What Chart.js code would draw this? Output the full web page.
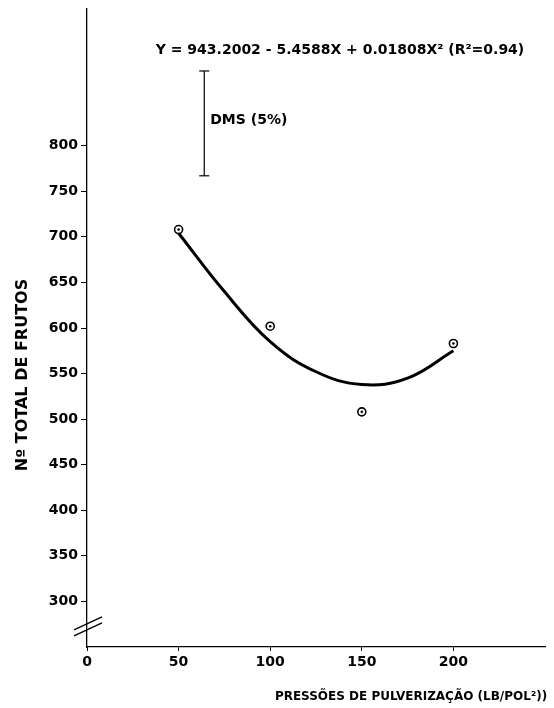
<!DOCTYPE html>
<html>
<head>
<meta charset="utf-8">
<script src="https://cdn.jsdelivr.net/npm/chart.js@4.4.1/dist/chart.umd.min.js"></script>
<style>
  body { margin: 0; background: #fff; }
  canvas { display: block; }
</style>
</head>
<body>
<canvas id="c" width="554" height="708"></canvas>
<script>
// observed means (pressure lb/pol², fruit count)
const pressures = [50, 100, 150, 200];
const frutos = [708, 602, 508, 583];

// fitted curve
const curveX = [50, 75, 100, 125, 150, 175, 200];
const curveY = [704, 640, 585, 552, 538, 545, 575];

// DMS (5%) bar
const dmsX = [64, 64];
const dmsY = [767, 882];

const yTicks = [300, 350, 400, 450, 500, 550, 600, 650, 700, 750, 800];
const xTicks = [0, 50, 100, 150, 200];

const equation = 'Y = 943.2002 - 5.4588X + 0.01808X\u00B2 (R\u00B2=0.94)';
const xTitle = 'PRESSÕES DE PULVERIZAÇÃO (LB/POL\u00B2))';
const yTitle = 'N\u00BA TOTAL DE FRUTOS';

const FONT = 'DejaVu Sans';
const pts = (xs, ys) => xs.map((x, i) => ({ x, y: ys[i] }));

const extras = {
  id: 'extras',
  afterDraw(chart) {
    const { ctx, scales } = chart;
    const xs = scales.x, ys = scales.y;
    ctx.save();
    ctx.fillStyle = '#000';
    ctx.textBaseline = 'middle';

    ctx.font = `bold 14px ${FONT}`;
    ctx.textAlign = 'center';
    ctx.fillText(equation, 340, 50);

    ctx.textAlign = 'left';
    const dmsMid = (ys.getPixelForValue(dmsY[0]) + ys.getPixelForValue(dmsY[1])) / 2;
    ctx.fillText('DMS (5%)', xs.getPixelForValue(dmsX[0]) + 6, dmsMid - 3);

    ctx.font = `bold 12px ${FONT}`;
    ctx.textAlign = 'center';
    ctx.fillText(xTitle, 411, 697);

    ctx.font = `bold 16px ${FONT}`;
    ctx.translate(23, 375);
    ctx.rotate(-Math.PI / 2);
    ctx.fillText(yTitle, 0, 0);
    ctx.restore();

    // axis break
    ctx.save();
    ctx.strokeStyle = '#000';
    ctx.lineWidth = 1.3;
    const bx = xs.left;
    const by = ys.getPixelForValue(272);
    [-3, 3].forEach(d => {
      ctx.beginPath();
      ctx.moveTo(bx - 13, by + d + 6);
      ctx.lineTo(bx + 15, by + d - 7);
      ctx.stroke();
    });
    ctx.restore();
  }
};

new Chart(document.getElementById('c'), {
  type: 'scatter',
  data: {
    datasets: [
      {
        // centre dots, listed first so they are painted on top
        data: pts(pressures, frutos),
        pointRadius: 1.3,
        pointBackgroundColor: '#000',
        pointBorderWidth: 0
      },
      {
        data: pts(pressures, frutos),
        pointStyle: 'circle',
        pointRadius: 4,
        pointBackgroundColor: '#fff',
        pointBorderColor: '#000',
        pointBorderWidth: 1.6
      },
      {
        type: 'line',
        data: pts(curveX, curveY),
        borderColor: '#000',
        borderWidth: 3,
        pointRadius: 0,
        tension: 0.4,
        fill: false
      },
      {
        type: 'line',
        data: pts(dmsX, dmsY),
        borderColor: '#000',
        borderWidth: 1.2,
        pointStyle: 'line',
        pointRadius: 5,
        pointBorderColor: '#000',
        pointBorderWidth: 1.2
      }
    ]
  },
  options: {
    responsive: false,
    animation: false,
    layout: { padding: { top: 9, right: 9, left: 0, bottom: 0 } },
    plugins: { legend: { display: false }, tooltip: { enabled: false } },
    scales: {
      x: {
        type: 'linear',
        min: 0,
        max: 250,
        afterBuildTicks: s => { s.ticks = xTicks.map(v => ({ value: v })); },
        afterFit: s => { s.height = 61; s.paddingLeft = 0; s.paddingRight = 0; },
        grid: { display: true, drawOnChartArea: false, drawTicks: true, tickLength: 4, color: '#000' },
        border: { display: true, color: '#000', width: 1.3 },
        ticks: { color: '#000', padding: 3, maxRotation: 0, font: { family: FONT, weight: 'bold', size: 14 } }
      },
      y: {
        type: 'linear',
        min: 250,
        max: 950,
        afterBuildTicks: s => { s.ticks = yTicks.map(v => ({ value: v })); },
        afterFit: s => { s.width = 87; s.paddingTop = 0; s.paddingBottom = 0; },
        grid: { display: true, drawOnChartArea: false, drawTicks: true, tickLength: 6, color: '#000' },
        border: { display: true, color: '#000', width: 1.3 },
        ticks: { color: '#000', padding: 3, font: { family: FONT, weight: 'bold', size: 14 } }
      }
    }
  },
  plugins: [extras]
});
</script>
</body>
</html>
